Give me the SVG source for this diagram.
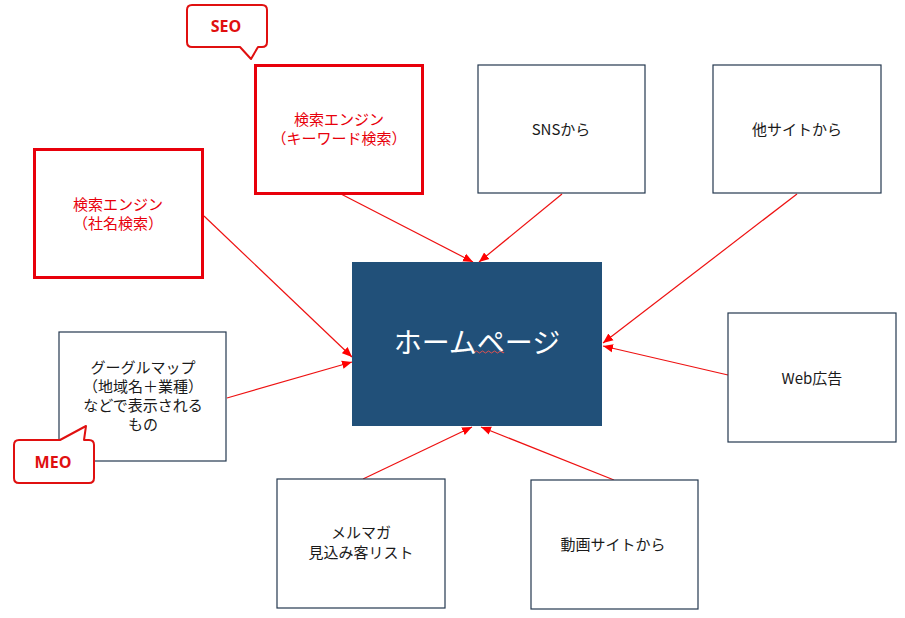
<svg xmlns="http://www.w3.org/2000/svg" width="905" height="618" viewBox="0 0 905 618">
<style>
text{font-family:"Noto Sans CJK JP","Noto Sans",sans-serif;text-anchor:middle;dominant-baseline:central}
.box{fill:#fff;stroke:#24384f;stroke-width:1.2}
.rbox{fill:#fff;stroke:#e8000b;stroke-width:3}
.t{font-size:15px;fill:#1a1a1a}
.rt{font-size:15px;fill:#e8000b}
.call{fill:#fff;stroke:#e01010;stroke-width:2;stroke-linejoin:round}
.ct{font-size:16px;font-weight:bold;fill:#e01010;font-family:"Open Sans","Noto Sans",sans-serif}
.c{stroke:#ee1111;stroke-width:1.2;fill:none;marker-end:url(#ah)}
</style>
<defs>
<marker id="ah" markerUnits="userSpaceOnUse" markerWidth="10" markerHeight="10" viewBox="0 0 10 10" refX="10" refY="5" orient="auto">
<path d="M0,0.8 L10,5 L0,9.2 Z" fill="#ff0000"/>
</marker>
</defs>
<rect width="905" height="618" fill="#fff"/>
<g id="connectors">
<line class="c" x1="341" y1="194" x2="473" y2="262"/>
<line class="c" x1="562" y1="194" x2="479" y2="262"/>
<line class="c" x1="797" y1="194" x2="603" y2="343"/>
<line class="c" x1="728" y1="375" x2="603" y2="346"/>
<line class="c" x1="204" y1="216" x2="352" y2="357"/>
<line class="c" x1="227" y1="398" x2="352" y2="362"/>
<line class="c" x1="363" y1="479" x2="472" y2="427"/>
<line class="c" x1="614" y1="480" x2="481" y2="427"/>
</g>
<g id="homepage">
<rect x="352" y="262" width="250" height="164" fill="#215079"/>
<text x="477" y="341" style="font-size:28px;fill:#fff">ホームページ</text>
<path d="M475,352 q1.5,-2 3,0 t3,0 t3,0 t3,0 t3,0 t3,0 t3,0 t3,0 t3,0 t2,0" fill="none" stroke="#e05050" stroke-width="1"/>
</g>
<g id="seo-keyword">
<rect class="rbox" x="255.5" y="65.5" width="167" height="128"/>
<text class="rt" x="339" y="118">検索エンジン</text>
<text class="rt" x="339" y="137">（キーワード検索）</text>
</g>
<g id="seo-callout">
<path class="call" d="M192,5 H262 Q267,5 267,10 V42 Q267,47 262,47 H258 L251,59 L240,47 H192 Q187,47 187,42 V10 Q187,5 192,5 Z"/>
<text class="ct" x="226" y="26">SEO</text>
</g>
<g id="seo-company">
<rect class="rbox" x="34.5" y="149.5" width="168" height="128"/>
<text class="rt" x="118" y="203">検索エンジン</text>
<text class="rt" x="118" y="222">（社名検索）</text>
</g>
<g id="sns">
<rect class="box" x="478" y="65" width="167" height="128"/>
<text class="t" x="561" y="128">SNSから</text>
</g>
<g id="othersite">
<rect class="box" x="713" y="65" width="168" height="128"/>
<text class="t" x="797" y="128">他サイトから</text>
</g>
<g id="google-map">
<rect class="box" x="59" y="332" width="167" height="129"/>
<text class="t" x="143" y="366">グーグルマップ</text>
<text class="t" x="143" y="385">（地域名＋業種）</text>
<text class="t" x="143" y="404">などで表示される</text>
<text class="t" x="143" y="423">もの</text>
</g>
<g id="meo-callout">
<path class="call" d="M19,440 H60 L86,426 L84,440 H89 Q94,440 94,445 V478 Q94,483 89,483 H19 Q14,483 14,478 V445 Q14,440 19,440 Z"/>
<text class="ct" x="53" y="462">MEO</text>
</g>
<g id="web-ad">
<rect class="box" x="728" y="313" width="168" height="129"/>
<text class="t" x="812" y="377">Web広告</text>
</g>
<g id="mailmag">
<rect class="box" x="277" y="479" width="168" height="129"/>
<text class="t" x="361" y="531">メルマガ</text>
<text class="t" x="361" y="551">見込み客リスト</text>
</g>
<g id="video">
<rect class="box" x="531" y="480" width="167" height="129"/>
<text class="t" x="613" y="543">動画サイトから</text>
</g>
</svg>
